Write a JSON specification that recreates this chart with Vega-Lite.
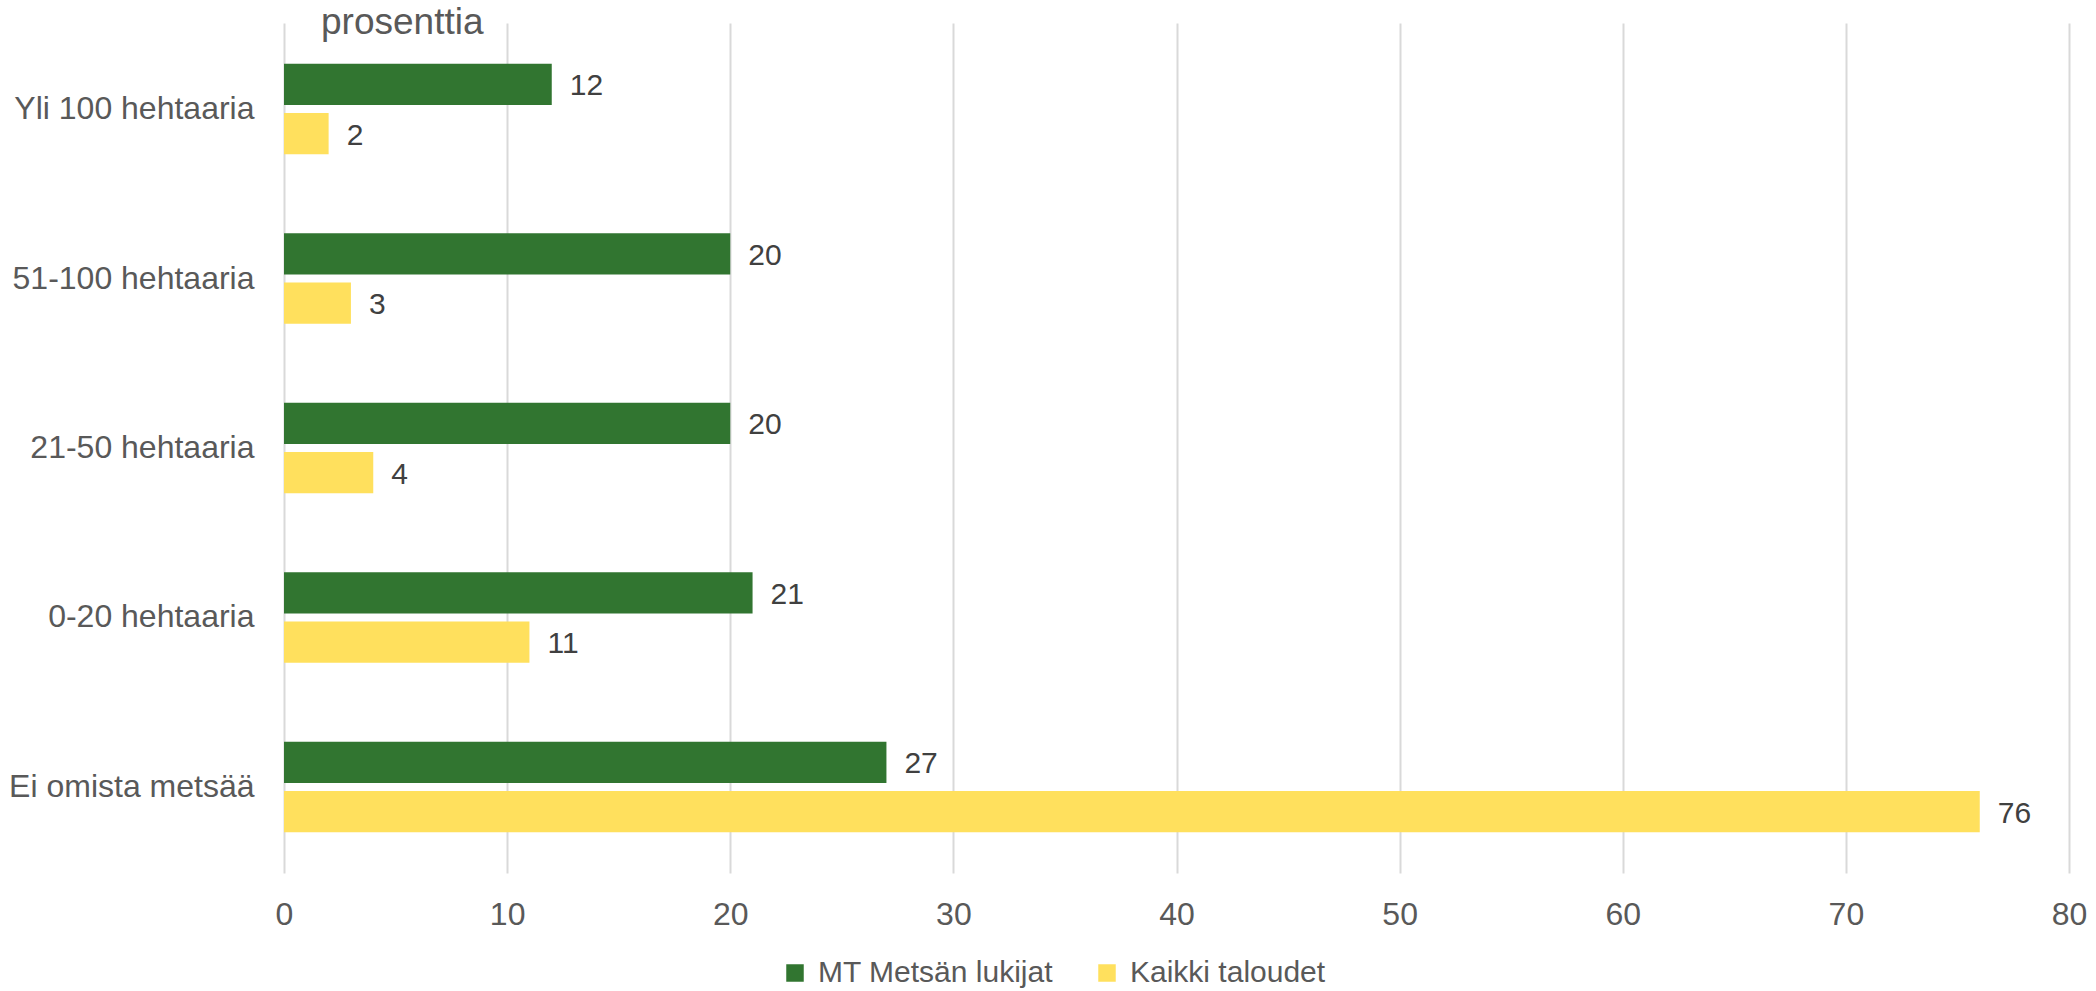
{
  "$schema": "https://vega.github.io/schema/vega-lite/v6.json",
  "autosize": {"type": "none"},
  "padding": {"left": 284, "top": 23, "right": 27, "bottom": 118},
  "width": 1785,
  "height": 850,
  "background": "white",
  "title": {
    "text": "prosenttia",
    "anchor": "start",
    "frame": "group",
    "orient": "top",
    "dx": 37,
    "offset": -19,
    "font": "Liberation Sans",
    "fontSize": 37,
    "fontWeight": "normal",
    "color": "#595959"
  },
  "data": {
    "values": [
      {"kategoria": "Yli 100 hehtaaria", "sarja": "MT Metsän lukijat", "arvo": 12},
      {"kategoria": "Yli 100 hehtaaria", "sarja": "Kaikki taloudet", "arvo": 2},
      {"kategoria": "51-100 hehtaaria", "sarja": "MT Metsän lukijat", "arvo": 20},
      {"kategoria": "51-100 hehtaaria", "sarja": "Kaikki taloudet", "arvo": 3},
      {"kategoria": "21-50 hehtaaria", "sarja": "MT Metsän lukijat", "arvo": 20},
      {"kategoria": "21-50 hehtaaria", "sarja": "Kaikki taloudet", "arvo": 4},
      {"kategoria": "0-20 hehtaaria", "sarja": "MT Metsän lukijat", "arvo": 21},
      {"kategoria": "0-20 hehtaaria", "sarja": "Kaikki taloudet", "arvo": 11},
      {"kategoria": "Ei omista metsää", "sarja": "MT Metsän lukijat", "arvo": 27},
      {"kategoria": "Ei omista metsää", "sarja": "Kaikki taloudet", "arvo": 76}
    ]
  },
  "encoding": {
    "y": {
      "field": "kategoria",
      "type": "nominal",
      "sort": ["Yli 100 hehtaaria", "51-100 hehtaaria", "21-50 hehtaaria", "0-20 hehtaaria", "Ei omista metsää"],
      "scale": {"paddingInner": 0.465, "paddingOuter": 0.24},
      "axis": {
        "title": null,
        "domain": false,
        "ticks": false,
        "labelPadding": 30,
        "labelLimit": 0,
        "labelFont": "Liberation Sans",
        "labelFontSize": 32,
        "labelColor": "#595959",
        "grid": false
      }
    },
    "yOffset": {
      "field": "sarja",
      "type": "nominal",
      "sort": ["MT Metsän lukijat", "Kaikki taloudet"],
      "scale": {"paddingInner": 0.162, "paddingOuter": 0}
    },
    "x": {
      "field": "arvo",
      "type": "quantitative",
      "scale": {"domain": [0, 80], "nice": false},
      "axis": {
        "title": null,
        "values": [0, 10, 20, 30, 40, 50, 60, 70, 80],
        "domain": false,
        "ticks": false,
        "grid": true,
        "gridColor": "#d9d9d9",
        "gridWidth": 2,
        "labelPadding": 26,
        "labelFont": "Liberation Sans",
        "labelFontSize": 32,
        "labelColor": "#595959",
        "labelFlush": false
      }
    }
  },
  "layer": [
    {
      "mark": {"type": "bar"},
      "encoding": {
        "color": {
          "field": "sarja",
          "type": "nominal",
          "sort": ["MT Metsän lukijat", "Kaikki taloudet"],
          "scale": {"domain": ["MT Metsän lukijat", "Kaikki taloudet"], "range": ["#317530", "#FFE05D"]},
          "legend": {
            "title": null,
            "orient": "none",
            "legendX": 496,
            "legendY": 935,
            "direction": "horizontal",
            "symbolType": "square",
            "symbolSize": 306,
            "symbolStrokeWidth": 0,
            "labelFont": "Liberation Sans",
            "labelFontSize": 30,
            "labelLimit": 0,
            "labelColor": "#595959",
            "labelOffset": 8,
            "columnPadding": 38
          }
        }
      }
    },
    {
      "mark": {
        "type": "text",
        "align": "left",
        "baseline": "middle",
        "dx": 18,
        "dy": 2,
        "font": "Liberation Sans",
        "fontSize": 30,
        "color": "#404040"
      },
      "encoding": {
        "text": {"field": "arvo", "type": "quantitative"}
      }
    }
  ],
  "config": {
    "view": {"stroke": null}
  }
}
